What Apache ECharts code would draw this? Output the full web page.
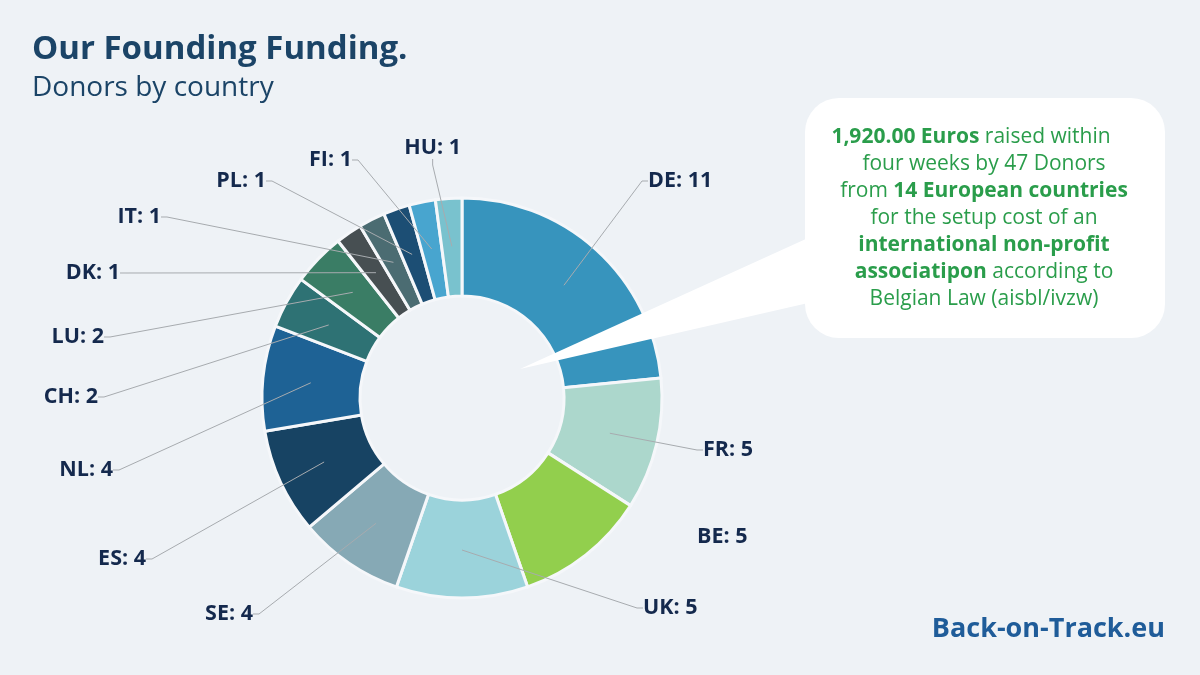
<!DOCTYPE html>
<html>
<head>
<meta charset="utf-8">
<script src="https://cdn.jsdelivr.net/npm/echarts@6/dist/echarts.min.js"></script>
<style>
  html, body { margin: 0; padding: 0; background: #eef2f6; }
  #chart { width: 1200px; height: 675px; }
</style>
</head>
<body>
<div id="chart"></div>
<script>
// ---- data ----
const countries = ['DE', 'FR', 'BE', 'UK', 'SE', 'ES', 'NL', 'CH', 'LU', 'DK', 'IT', 'PL', 'FI', 'HU'];
const donors    = [11, 5, 5, 5, 4, 4, 4, 2, 2, 1, 1, 1, 1, 1];
const bubbleLines = [
  '{b|1,920.00 Euros} raised within',
  'four weeks by 47 Donors',
  'from {b|14 European countries}',
  'for the setup cost of an',
  '{b|international non-profit}',
  '{b|associatipon} according to',
  'Belgian Law (aisbl/ivzw)'
];

// ---- styling ----
const sliceColors = ['#3794bd', '#acd7cc', '#92cf4d', '#9bd3db', '#86a9b5', '#174363', '#1e6295',
                     '#2e7274', '#3a7d65', '#474f52', '#4b6c72', '#1c4e74', '#48a5cf', '#79c2ce'];
// label placement (text edge x, centre y, alignment) – layout only
const labelPlace = {
  DE: [648, 181, 'left'],  FR: [703, 450, 'left'], BE: [697, 537, 'left'], UK: [643, 608, 'left'],
  SE: [253, 614, 'right'], ES: [146, 559, 'right'], NL: [113, 470, 'right'], CH: [98, 397, 'right'],
  LU: [104, 337, 'right'], DK: [120, 273, 'right'], IT: [161, 217, 'right'], PL: [266, 181, 'right'],
  FI: [352, 160, 'right'], HU: [461, 148, 'right']
};
const bubbleLineNudge = [-13, 0, 0, 0, 0, 0, 0];
const noLine = ['BE'];
const PAD = 5;
const FONT = '"Open Sans", Lato, sans-serif';
const GREEN = '#2a9d4b';

const chart = echarts.init(document.getElementById('chart'));

const ringData = countries.map((c, i) => ({ name: c, value: donors[i], itemStyle: { color: sliceColors[i] } }));
const labelData = countries.map((c, i) => ({
  name: c, value: donors[i],
  labelLine: { show: noLine.indexOf(c) < 0 }
}));

const bubbleTexts = bubbleLines.map((line, i) => ({
  type: 'text',
  z: 101,
  x: 984 + bubbleLineNudge[i], y: 137 + i * 27,
  style: {
    text: line,
    align: 'center',
    verticalAlign: 'middle',
    fontFamily: FONT,
    fontSize: 21,
    fill: GREEN,
    rich: {
      b: { fontFamily: FONT, fontSize: 21, fontWeight: 'bold', fill: GREEN }
    }
  }
}));

const option = {
  backgroundColor: '#eef2f6',
  animation: false,
  title: [
    {
      text: 'Our Founding Funding.',
      subtext: 'Donors by country',
      left: 27, top: 28,
      itemGap: 8,
      textStyle: { fontFamily: FONT, fontSize: 33, fontWeight: 'bold', color: '#1b4467' },
      subtextStyle: { fontFamily: FONT, fontSize: 28, fontWeight: 'normal', color: '#1b4467' }
    },
    {
      text: 'Back-on-Track.eu',
      right: 30, top: 611,
      textStyle: { fontFamily: FONT, fontSize: 27, fontWeight: 'bold', color: '#1f5c99' }
    }
  ],
  series: [
    {
      type: 'pie',
      z: 2,
      center: [462, 398],
      radius: [102, 200],
      startAngle: 90,
      clockwise: true,
      silent: true,
      label: { show: false },
      labelLine: { show: false },
      itemStyle: { borderColor: '#f5f7fa', borderWidth: 3 },
      emphasis: { disabled: true },
      data: ringData
    },
    {
      type: 'pie',
      z: 5,
      center: [462, 398],
      radius: [0, 152],
      startAngle: 90,
      clockwise: true,
      silent: true,
      avoidLabelOverlap: false,
      itemStyle: { color: 'rgba(0,0,0,0)', borderWidth: 0 },
      emphasis: { disabled: true },
      label: {
        show: true,
        formatter: '{b}: {c}',
        fontFamily: FONT,
        fontSize: 21.5,
        fontWeight: 'bold',
        color: '#14294d',
        padding: [0, PAD]
      },
      labelLine: {
        show: true,
        length: 10,
        length2: 6,
        lineStyle: { color: '#a7abaf', width: 1 }
      },
      labelLayout: function (p) {
        const name = countries[p.dataIndex];
        const pl = labelPlace[name];
        return {
          x: pl[2] === 'left' ? pl[0] - PAD : pl[0] + PAD,
          y: pl[1],
          align: pl[2],
          verticalAlign: 'middle'
        };
      },
      data: labelData
    }
  ],
  graphic: [
    {
      type: 'polygon',
      z: 100,
      shape: { points: [[520, 369], [830, 228], [830, 298]] },
      style: { fill: '#ffffff' }
    },
    {
      type: 'rect',
      z: 100,
      shape: { x: 805, y: 98, width: 360, height: 240, r: 34 },
      style: { fill: '#ffffff' }
    }
  ].concat(bubbleTexts)
};
chart.setOption(option);
</script>
</body>
</html>
